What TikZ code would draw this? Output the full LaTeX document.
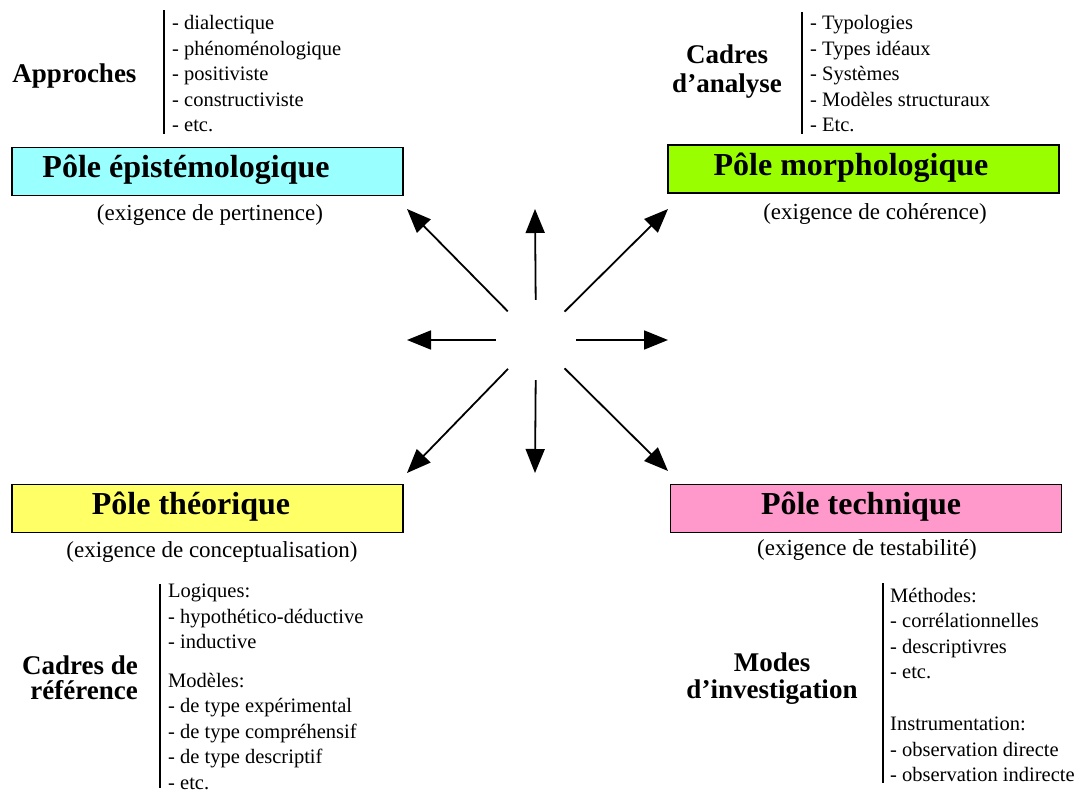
\documentclass[tikz,border=0pt]{standalone}
\usepackage{fontspec}
\setmainfont{Liberation Serif}
\usepackage{xcolor}
\usepackage{tikz}
\usetikzlibrary{positioning}
\usetikzlibrary{arrows.meta}

\definecolor{epicyan}{HTML}{99FFFF}
\definecolor{morphogreen}{HTML}{99FF00}
\definecolor{theoyellow}{HTML}{FFFF66}
\definecolor{techpink}{HTML}{FF99CC}

\begin{document}
\begin{tikzpicture}[x=1pt, y=-1pt,
polebox/.style={rectangle, draw=black, line width=1.6pt, minimum width=391pt, minimum height=48pt, inner sep=0pt},
poletitle/.style={inner sep=0pt, font=\fontsize{32}{36}\selectfont\bfseries},
exigence/.style={inner sep=0pt, font=\fontsize{23}{27}\selectfont},
heading/.style={inner sep=0pt, align=center, font=\fontsize{27}{28}\selectfont\bfseries},
itemlist/.style={inner sep=0pt, anchor=west, align=left, font=\fontsize{20.5}{25.5}\selectfont},
bar/.style={line width=1.8pt},
ray/.style={line width=1.8pt, -{Triangle[length=24pt, width=19pt]}},
]
\useasboundingbox (0,0) rectangle (1079,791);
%Boxes
\node[polebox, fill=epicyan]     (epibox)    at (207.5,171.5) {};
\node[polebox, fill=morphogreen] (morphobox) at (863.5,169)   {};
\node[polebox, fill=theoyellow]  (theobox)   at (207.5,508.5) {};
\node[polebox, fill=techpink]    (techbox)   at (866,508.5)   {};
%Nodes
\node[poletitle] (epi)    at (186,170) {Pôle épistémologique};
\node[poletitle] (morpho) at (851,168) {Pôle morphologique};
\node[poletitle] (theo)   at (191,507) {Pôle théorique};
\node[poletitle] (tech)   at (861,507) {Pôle technique};
\node[exigence] (epiex)    at (210,215) {(exigence de pertinence)};
\node[exigence] (morphoex) at (875,214) {(exigence de cohérence)};
\node[exigence] (theoex)   at (212,552) {(exigence de conceptualisation)};
\node[exigence] (techex)   at (867,550) {(exigence de testabilité)};
\node[heading] (approches) at (74.5,76) {Approches};
\node[heading, font=\fontsize{27}{29}\selectfont\bfseries] (cadresan) at (727,72) {Cadres\\d’analyse};
\node[heading, align=right, font=\fontsize{27}{25}\selectfont\bfseries] (cadresref) at (80,678) {Cadres de\\référence};
\node[heading, font=\fontsize{27}{27}\selectfont\bfseries] (modes) at (772,679) {Modes\\d’investigation};
\node[itemlist] (applist) at (172,74) {- dialectique\\- phénoménologique\\- positiviste\\- constructiviste\\- etc.};
\node[itemlist] (analist) at (810,74) {- Typologies\\- Types idéaux\\- Systèmes\\- Modèles structuraux\\- Etc.};
\node[itemlist] (reflist) at (168,687) {Logiques:\\- hypothético-déductive\\- inductive\\[13pt]Modèles:\\- de type expérimental\\- de type compréhensif\\- de type descriptif\\- etc.};
\node[itemlist] (invlist) at (890,685) {Méthodes:\\- corrélationnelles\\- descriptivres\\- etc.\\[26.5pt]Instrumentation:\\- observation directe\\- observation indirecte};
%Bars
\draw[bar] (164,10) -- (164,134);
\draw[bar] (802,12) -- (802,134);
\draw[bar] (160,584) -- (160,788);
\draw[bar] (883,583) -- (883,783);
%Arrows
\node[circle, minimum size=80pt, inner sep=0pt] (hub) at (536,340) {};
\coordinate (tipN)  at (535,209);
\coordinate (tipNE) at (668,209);
\coordinate (tipE)  at (668,340);
\coordinate (tipSE) at (668,471);
\coordinate (tipS)  at (535,473);
\coordinate (tipSW) at (407,473);
\coordinate (tipW)  at (407,340);
\coordinate (tipNW) at (407,209);
\draw[ray] (hub) -- (tipN);
\draw[ray] (hub) -- (tipNE);
\draw[ray] (hub) -- (tipE);
\draw[ray] (hub) -- (tipSE);
\draw[ray] (hub) -- (tipS);
\draw[ray] (hub) -- (tipSW);
\draw[ray] (hub) -- (tipW);
\draw[ray] (hub) -- (tipNW);
\end{tikzpicture}
\end{document}
